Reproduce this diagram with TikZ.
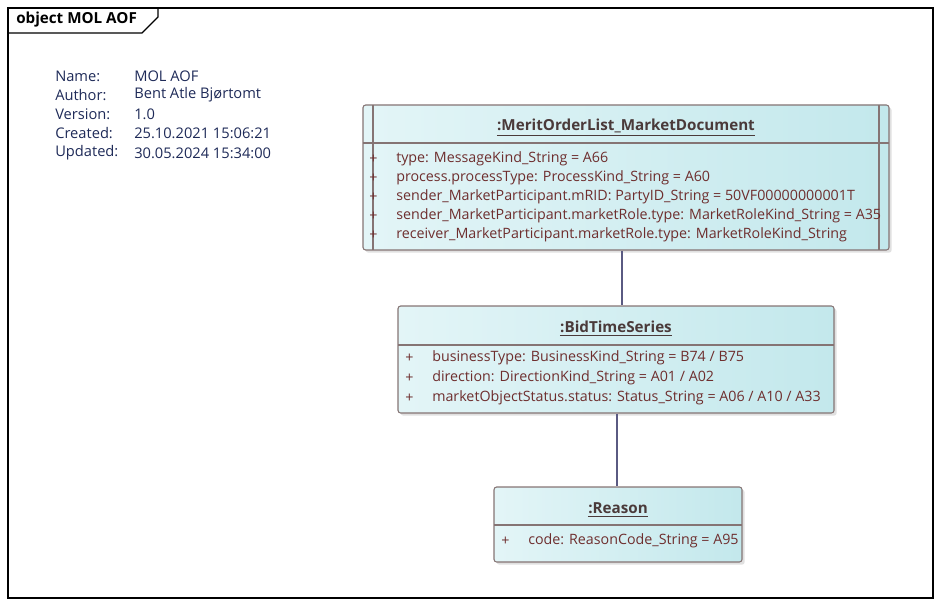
\documentclass[tikz,border=0pt]{standalone}
\usepackage{fontspec}
\setmainfont{Open Sans}
\usetikzlibrary{fit,shadows}
\definecolor{boxline}{HTML}{857474}
\definecolor{attrcol}{HTML}{6E2E2E}
\definecolor{titlecol}{HTML}{4A3A3A}
\definecolor{metacol}{HTML}{1E2A58}
\definecolor{fillL}{HTML}{E3F5F7}
\definecolor{fillR}{HTML}{C3E8EC}
\definecolor{connc}{HTML}{5A5A82}
\begin{document}
\begin{tikzpicture}[x=0.75pt,y=-0.75pt,
  umlbox/.style={draw=boxline, line width=0.8pt, rounded corners=2pt, inner sep=0pt,
    left color=fillL, right color=fillR,
    drop shadow={shadow xshift=2pt, shadow yshift=-2pt, fill=black!20, opacity=0.6}},
  sepline/.style={draw=boxline, line width=0.8pt},
  attr/.style={anchor=west, inner sep=0pt, font=\fontsize{10.7}{12}\selectfont, text=attrcol},
  ttl/.style={inner sep=0pt, font=\bfseries\fontsize{11.4}{13}\selectfont, text=titlecol},
  meta/.style={anchor=west, inner sep=0pt, font=\fontsize{11}{13}\selectfont, text=metacol},
  conn/.style={draw=connc, line width=0.8pt}]
\useasboundingbox (0,0) rectangle (942,606);
% frame
\coordinate (fa) at (8,8);
\coordinate (fb) at (933,598);
\draw[line width=0.8pt] (fa) rectangle (fb);
\draw[line width=0.8pt] (8,33) -- (142,33) -- (158,17) -- (158,8);
\node[anchor=west, inner sep=0pt, font=\bfseries\fontsize{11.4}{13}\selectfont] (frametitle) at (16,20) {object MOL AOF};
% metadata
\node[meta] (n1) at (55,76) {Name:};
\node[meta] (n2) at (55,95) {Author:};
\node[meta] (n3) at (55,114) {Version:};
\node[meta] (n4) at (55,133) {Created:};
\node[meta] (n5) at (55,153) {Updated:};
\node[meta] (v1) at (134,76) {MOL AOF};
\node[meta] (v2) at (134,95) {Bent Atle Bjørtomt};
\node[meta] (v3) at (134,114) {1.0};
\node[meta] (v4) at (134,133) {25.10.2021 15:06:21};
\node[meta] (v5) at (134,153) {30.05.2024 15:34:00};
% MeritOrderList box
\coordinate (m1) at (363,105);
\coordinate (m2) at (889,250);
\node[umlbox, fit=(m1)(m2)] (mol) {};
\draw[sepline] (363,143) -- (889,143);
\draw[sepline] (373,105) -- (373,250);
\draw[sepline] (879,105) -- (879,250);
\node[ttl] (molt) at (626,126) {:MeritOrderList\_MarketDocument};
\draw[titlecol, line width=0.7pt] ([yshift=-2pt]molt.south west) -- ([yshift=-2pt]molt.south east);
\foreach \y/\t [count=\i] in {159/{type: MessageKind\_String = A66},
  178/{process.processType: ProcessKind\_String = A60},
  197/{sender\_MarketParticipant.mRID: PartyID\_String = 50VF00000000001T},
  216/{sender\_MarketParticipant.marketRole.type: MarketRoleKind\_String = A35},
  235/{receiver\_MarketParticipant.marketRole.type: MarketRoleKind\_String}}{
  \node[attr] (mp\i) at (369,\y) {+};
  \node[attr] (ma\i) at (396,\y) {\t};
}
% BidTimeSeries box
\coordinate (b1) at (398,306);
\coordinate (b2) at (834,413);
\node[umlbox, fit=(b1)(b2)] (bts) {};
\draw[sepline] (398,345) -- (834,345);
\node[ttl] (btst) at (616,327) {:BidTimeSeries};
\draw[titlecol, line width=0.7pt] ([yshift=-2pt]btst.south west) -- ([yshift=-2pt]btst.south east);
\foreach \y/\t [count=\i] in {358/{businessType: BusinessKind\_String = B74 / B75},
  378/{direction: DirectionKind\_String = A01 / A02},
  398/{marketObjectStatus.status: Status\_String = A06 / A10 / A33}}{
  \node[attr] (bp\i) at (405,\y) {+};
  \node[attr] (ba\i) at (432,\y) {\t};
}
% Reason box
\coordinate (r1) at (494,487);
\coordinate (r2) at (742,562);
\node[umlbox, fit=(r1)(r2)] (rsn) {};
\draw[sepline] (494,525) -- (742,525);
\node[ttl] (rsnt) at (618,508) {:Reason};
\draw[titlecol, line width=0.7pt] ([yshift=-2pt]rsnt.south west) -- ([yshift=-2pt]rsnt.south east);
\node[attr] (rp1) at (501,541) {+};
\node[attr] (ra1) at (528,541) {code: ReasonCode\_String = A95};
% connectors
\draw[conn] (mol.south -| 622,0) -- (bts.north -| 622,0);
\draw[conn] (bts.south -| 617,0) -- (rsn.north -| 617,0);
\end{tikzpicture}
\end{document}
